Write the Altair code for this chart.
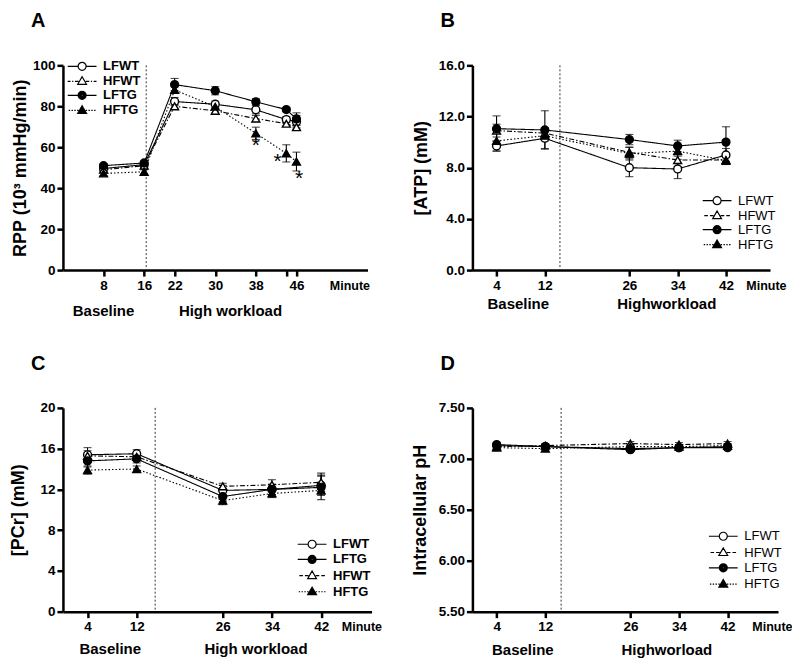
import altair as alt
import pandas as pd

FONT = "Liberation Sans"

# ---------------- data ----------------
series_names = ["LFWT", "HFWT", "LFTG", "HFTG"]

# Panel A: rate pressure product
a_minutes = [8, 16, 22, 30, 38, 44, 46]
a_lfwt = [49.6, 51.5, 82.3, 81.0, 78.3, 73.5, 72.5]
a_hfwt = [49.0, 51.0, 80.0, 77.8, 74.0, 71.5, 69.8]
a_lftg = [51.0, 52.3, 90.6, 87.6, 82.2, 78.4, 73.8]
a_hftg = [47.2, 48.0, 88.0, 79.8, 66.8, 57.0, 53.0]
a_lfwt_err = [1.0, 1.0, 2.0, 1.5, 2.0, 1.5, 3.0]
a_hfwt_err = [1.0, 1.0, 1.0, 1.0, 1.5, 1.0, 1.0]
a_lftg_err = [1.0, 1.0, 3.0, 2.0, 1.5, 1.0, 3.0]
a_hftg_err = [1.0, 1.0, 1.5, 1.0, 3.0, 4.2, 4.6]
a_star_x = [38, 42.3, 46.5]
a_star_y = [60.5, 53.0, 44.5]

# Panel B: ATP
b_minutes = [4, 12, 26, 34, 42]
b_lfwt = [9.7, 10.3, 8.0, 7.9, 9.0]
b_hfwt = [10.9, 10.7, 9.2, 8.6, 8.6]
b_lftg = [11.05, 10.95, 10.2, 9.7, 10.0]
b_hftg = [10.1, 10.5, 9.1, 9.3, 8.55]
b_lfwt_err = [0.4, 0.8, 0.7, 0.75, 0.5]
b_hfwt_err = [0.5, 0.4, 0.4, 0.5, 0.3]
b_lftg_err = [1.0, 1.5, 0.4, 0.45, 1.2]
b_hftg_err = [0.8, 0.4, 0.5, 0.4, 0.3]

# Panel C: PCr
c_minutes = [4, 12, 26, 34, 42]
c_lfwt = [15.4, 15.5, 11.9, 12.0, 12.4]
c_lftg = [14.8, 15.0, 11.3, 12.0, 12.2]
c_hfwt = [15.3, 15.2, 12.3, 12.45, 12.7]
c_hftg = [13.9, 14.0, 10.9, 11.6, 11.9]
c_lfwt_err = [0.7, 0.4, 0.5, 0.5, 0.9]
c_lftg_err = [0.6, 0.4, 0.5, 0.5, 1.2]
c_hfwt_err = [0.5, 0.4, 0.3, 0.5, 0.9]
c_hftg_err = [0.4, 0.3, 0.4, 0.4, 0.5]

# Panel D: intracellular pH
d_minutes = [4, 12, 26, 34, 42]
d_lfwt = [7.13, 7.12, 7.10, 7.11, 7.11]
d_hfwt = [7.12, 7.13, 7.15, 7.14, 7.15]
d_lftg = [7.14, 7.12, 7.09, 7.11, 7.12]
d_hftg = [7.11, 7.10, 7.12, 7.12, 7.13]
d_err = [0.02, 0.02, 0.02, 0.02, 0.02]

# ---------------- styles ----------------
DASH = {"solid": [1, 0], "dashed": [4, 3], "dashdot": [5, 2, 1.5, 2], "dotted": [1.5, 2]}
SEG = {"solid": None, "dashed": [(0.9, 0.5)], "dashdot": [(0.9, 0.4), (0.3, 0.4)],
       "dotted": [(0.35, 0.35)]}
SHAPE = {"LFWT": "circle", "HFWT": "triangle-up", "LFTG": "circle", "HFTG": "triangle-up"}
FILL = {"LFWT": "white", "HFWT": "white", "LFTG": "black", "HFTG": "black"}


def circle_path(r):
    return f"M{-r:.3f},0A{r:.3f},{r:.3f},0,1,1,{r:.3f},0A{r:.3f},{r:.3f},0,1,1,{-r:.3f},0Z"


def tri_path(s):
    return (f"M0,{-1.15 * s:.3f}L{1.1 * s:.3f},{0.75 * s:.3f}"
            f"L{-1.1 * s:.3f},{0.75 * s:.3f}Z")


def line_path(style, inner, outer=3.6):
    pat = SEG[style]
    parts = []
    if pat is None:
        segs = [(inner, outer)]
    else:
        segs = []
        x = inner + 0.15
        k = 0
        while x < outer:
            on, off = pat[k % len(pat)]
            segs.append((x, min(x + on, outer)))
            x += on + off
            k += 1
    for a, b in segs:
        parts.append(f"M{a:.3f},0L{b:.3f},0M{-a:.3f},0L{-b:.3f},0")
    return "".join(parts)


def legend_symbol(name, style):
    if SHAPE[name] == "circle":
        p = line_path(style, 1.0)
        if FILL[name] == "black":
            p += "".join(circle_path(r) for r in (1.0, 0.75, 0.5, 0.25, 0.05))
        else:
            p += circle_path(1.0)
    else:
        p = line_path(style, 0.75)
        if FILL[name] == "black":
            p += "".join(tri_path(s) for s in (1.0, 0.75, 0.5, 0.25, 0.05))
        else:
            p += tri_path(1.0)
    return p


def make_panel(letter, minutes, vals, errs, leg_order, styles, colors, xdomain, xticks,
               ydomain, yticks, yfmt, ytitle, title_pad, vline, phase_x, phase_names,
               phase_dy, minute_dx, width, height, leg_x, leg_y, row_pad, leg_bold,
               stars=None, hide_tick=None):
    rows = []
    for s in series_names:
        for m, v, e in zip(minutes, vals[s], errs[s]):
            rows.append({"minute": m, "value": v, "lo": v - e, "hi": v + e, "series": s})
    df = pd.DataFrame(rows)

    label_expr = "datum.label"
    if hide_tick is not None:
        label_expr = f"datum.value == {hide_tick} ? '' : datum.label"
    xscale = alt.Scale(domain=xdomain, nice=False, zero=False)
    yscale = alt.Scale(domain=ydomain, nice=False, zero=False)
    xaxis = alt.Axis(values=xticks, labelExpr=label_expr, title="Minute", titleX=width + minute_dx,
                     titleY=15, titleAlign="right", titleBaseline="middle", titleFontSize=12.5,
                     titleFontWeight="bold", titleFont=FONT, labelOverlap=False, labelFlush=False,
                     grid=False)
    yaxis = alt.Axis(values=yticks, format=yfmt, title=ytitle, titlePadding=title_pad,
                     titleFontSize=18, titleFontWeight="bold", titleFont=FONT, grid=False,
                     labelFlush=False, labelOverlap=False)
    X = alt.X("minute:Q", scale=xscale, axis=xaxis)
    Y = alt.Y("value:Q", scale=yscale, axis=yaxis)

    vdf = pd.DataFrame({"minute": [vline]})
    vrule = alt.Chart(vdf).mark_rule(strokeDash=[2, 2], strokeWidth=1, color="#333").encode(
        x=X)

    dash_scale = alt.Scale(domain=series_names, range=[DASH[styles[s]] for s in series_names])
    col_scale = alt.Scale(domain=series_names, range=[colors[s] for s in series_names])
    lines = alt.Chart(df).mark_line(strokeWidth=1.1).encode(
        x=X, y=Y,
        strokeDash=alt.StrokeDash("series:N", scale=dash_scale, legend=None),
        color=alt.Color("series:N", scale=col_scale, legend=None),
        detail="series:N",
    )
    ebar = alt.Chart(df).mark_rule(strokeWidth=1.1, color="black").encode(
        x="minute:Q", y="lo:Q", y2="hi:Q")
    cap_lo = alt.Chart(df).mark_tick(orient="horizontal", size=8, thickness=1.1,
                                     color="black").encode(x="minute:Q", y="lo:Q")
    cap_hi = alt.Chart(df).mark_tick(orient="horizontal", size=8, thickness=1.1,
                                     color="black").encode(x="minute:Q", y="hi:Q")
    pts = alt.Chart(df).mark_point(filled=True, size=62, stroke="black", strokeWidth=1.4,
                                   opacity=1).encode(
        x="minute:Q", y="value:Q",
        shape=alt.Shape("series:N", scale=alt.Scale(domain=series_names,
                        range=[SHAPE[s] for s in series_names]), legend=None),
        fill=alt.Fill("series:N", scale=alt.Scale(domain=series_names,
                      range=[FILL[s] for s in series_names]), legend=None),
    )

    pdf = pd.DataFrame({"minute": phase_x, "label": phase_names})
    phase = alt.Chart(pdf).mark_text(fontSize=15, fontWeight="bold", font=FONT,
                                     color="black", baseline="middle").encode(
        x="minute:Q", y=alt.value(height + phase_dy), text="label:N")

    leg_paths = [legend_symbol(s, styles[s]) for s in leg_order]
    legend_layer = alt.Chart(df).mark_point(filled=False, stroke="black", strokeWidth=1.2,
                                            size=64).encode(
        x="minute:Q", y="value:Q",
        shape=alt.Shape("series:N", scale=alt.Scale(domain=leg_order, range=leg_paths),
                        legend=alt.Legend(title=None, orient="none", legendX=leg_x,
                                          legendY=leg_y, symbolSize=64,
                                          symbolStrokeColor="black", symbolStrokeWidth=1.2,
                                          symbolOpacity=1,
                                          labelFont=FONT, labelFontSize=13,
                                          labelFontWeight="bold" if leg_bold else "normal",
                                          labelColor="black", labelOffset=14.5,
                                          rowPadding=row_pad, padding=0)),
    ).transform_filter("false")

    layers = [vrule, lines, ebar, cap_lo, cap_hi, pts, phase]
    if stars is not None:
        sdf = pd.DataFrame({"minute": stars[0], "value": stars[1]})
        layers.append(alt.Chart(sdf).mark_text(text="*", fontSize=21, font=FONT,
                                               color="black", baseline="middle").encode(
            x="minute:Q", y="value:Q"))
    layers.append(legend_layer)

    return alt.layer(*layers).resolve_scale(shape="independent").properties(
        width=width, height=height,
        title=alt.TitleParams(letter, anchor="start", frame="group", fontSize=20,
                              fontWeight="bold", font=FONT, color="black", dx=-32, offset=27),
    )


solid_black = {s: "black" for s in series_names}

panel_a = make_panel(
    "A", a_minutes,
    {"LFWT": a_lfwt, "HFWT": a_hfwt, "LFTG": a_lftg, "HFTG": a_hftg},
    {"LFWT": a_lfwt_err, "HFWT": a_hfwt_err, "LFTG": a_lftg_err, "HFTG": a_hftg_err},
    ["LFWT", "HFWT", "LFTG", "HFTG"],
    {"LFWT": "solid", "HFWT": "dashdot", "LFTG": "solid", "HFTG": "dotted"},
    solid_black, [0, 60], [8, 16, 22, 30, 38, 44, 46],
    [0, 100], [0, 20, 40, 60, 80, 100], "d", "RPP (10³ mmHg/min)", 3,
    16.4, [8, 33], ["Baseline", "High workload"], 41, 2, 305, 205,
    12.7, -5.5, 0, True, stars=(a_star_x, a_star_y), hide_tick=44)

panel_b = make_panel(
    "B", b_minutes,
    {"LFWT": b_lfwt, "HFWT": b_hfwt, "LFTG": b_lftg, "HFTG": b_hftg},
    {"LFWT": b_lfwt_err, "HFWT": b_hfwt_err, "LFTG": b_lftg_err, "HFTG": b_hftg_err},
    ["LFWT", "HFWT", "LFTG", "HFTG"],
    {"LFWT": "solid", "HFWT": "dashed", "LFTG": "solid", "HFTG": "dotted"},
    solid_black, [0, 49.3], [4, 12, 26, 34, 42],
    [0, 16], [0, 2, 4, 6, 8, 10, 12, 14, 16], ".1f", "[ATP] (mM)", 8,
    14.5, [7.6, 32.2], ["Baseline", "Highworkload"], 34, 16, 298, 205,
    238.5, 129, 0, False)

panel_c = make_panel(
    "C", c_minutes,
    {"LFWT": c_lfwt, "HFWT": c_hfwt, "LFTG": c_lftg, "HFTG": c_hftg},
    {"LFWT": c_lfwt_err, "HFWT": c_hfwt_err, "LFTG": c_lftg_err, "HFTG": c_hftg_err},
    ["LFWT", "LFTG", "HFWT", "HFTG"],
    {"LFWT": "solid", "HFWT": "dashed", "LFTG": "solid", "HFTG": "dotted"},
    {"LFWT": "black", "HFWT": "#666666", "LFTG": "black", "HFTG": "black"},
    [0, 50.2], [4, 12, 26, 34, 42],
    [0, 20], [0, 4, 8, 12, 16, 20], "d", "[PCr]  (mM)", 12,
    15.0, [7.7, 31.4], ["Baseline", "High workload"], 37, 10, 309, 204,
    243, 130, 1.2, True)

panel_d = make_panel(
    "D", d_minutes,
    {"LFWT": d_lfwt, "HFWT": d_hfwt, "LFTG": d_lftg, "HFTG": d_hftg},
    {"LFWT": d_err, "HFWT": d_err, "LFTG": d_err, "HFTG": d_err},
    ["LFWT", "HFWT", "LFTG", "HFTG"],
    {"LFWT": "solid", "HFWT": "dashed", "LFTG": "solid", "HFTG": "dotted"},
    {"LFWT": "black", "HFWT": "black", "LFTG": "#444444", "HFTG": "black"},
    [0, 50.3], [4, 12, 26, 34, 42],
    [5.5, 7.5], [5.5, 5.75, 6.0, 6.25, 6.5, 6.75, 7.0, 7.25, 7.5], ".2f",
    "Intracellular pH", 9,
    14.6, [8.3, 32.0], ["Baseline", "Highworload"], 38, 14, 306, 204,
    244.7, 122, 1.3, False)

chart = alt.concat(panel_a, panel_b, panel_c, panel_d, columns=2, bounds="flush",
                   spacing={"row": 138, "column": 101}).properties(
    padding={"left": 1, "top": 3, "right": 0, "bottom": 0}
).configure_view(stroke=None).configure_axis(
    domainColor="black", domainWidth=2.5, tickColor="black", tickWidth=2.5, tickSize=6,
    labelFont=FONT, labelFontSize=13.5, labelFontWeight="bold", labelColor="black",
    labelPadding=2, titleColor="black",
).configure_text(font=FONT)

chart.save("out.html", embed_options={"renderer": "svg", "actions": False})
